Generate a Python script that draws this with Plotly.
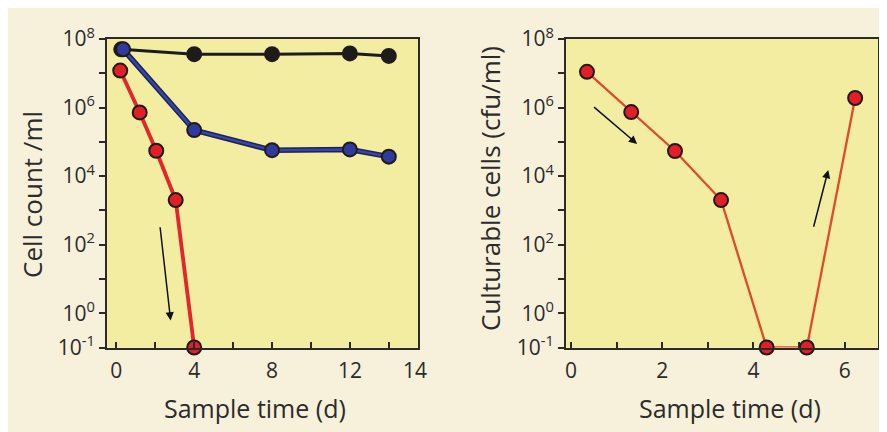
import plotly.graph_objects as go

# ---------------- data ----------------
# Left panel: cell counts (cells/ml) vs sample time (d)
black_x = [0.25, 4, 8, 12, 14]
black_y = [5.0e7, 3.6e7, 3.6e7, 3.8e7, 3.2e7]

blue_x = [0.35, 4, 8, 12, 14]
blue_y = [5.0e7, 2.2e5, 5.7e4, 6.0e4, 3.7e4]

red_x = [0.2, 1.2, 2.05, 3.05, 4.0]
red_y = [1.2e7, 7.2e5, 5.5e4, 2.0e3, 0.1]

# Right panel: culturable cells (cfu/ml)
cfu_x = [0.35, 1.32, 2.28, 3.29, 4.29, 5.17, 6.23]
cfu_y = [1.1e7, 7.4e5, 5.4e4, 2.0e3, 0.1, 0.1, 1.9e6]

# tick labels
y_tickvals = [1e8, 1e7, 1e6, 1e5, 1e4, 1e3, 1e2, 1e1, 1e0, 1e-1]
y_ticktext = ["10<sup>8</sup>", "", "10<sup>6</sup>", "", "10<sup>4</sup>", "",
              "10<sup>2</sup>", "", "10<sup>0</sup>", "10<sup>-1</sup>"]
x1_tickvals = [0, 2, 4, 6, 8, 10, 12, 14]
x1_ticktext = ["0", "", "4", "", "8", "", "12", ""]
x1_end_label = "14"
x2_tickvals = [0, 1, 2, 3, 4, 5, 6]
x2_ticktext = ["0", "", "2", "", "4", "", "6"]

# ---------------- style ----------------
W, H = 887, 432
OFF = 8  # page body margin offset
FONT = "Open Sans"
TXT = "#2b2b2b"
PAPER = "#f7f0da"
PLOTBG = "#f2eda0"
AX = "#2a2a2a"
MK_LINE = dict(color="#221a1a", width=2)


def px(x):
    return (x - OFF) / W


def py(y):
    return 1 - (y - OFF) / H


fig = go.Figure()

fig.add_trace(go.Scatter(x=black_x, y=black_y, mode="lines+markers",
                         line=dict(color="#1c1c1c", width=3),
                         marker=dict(size=14, color="#1c1c1c", line=MK_LINE),
                         cliponaxis=False, xaxis="x", yaxis="y", showlegend=False))
# blue series: dark edge under a blue core
fig.add_trace(go.Scatter(x=blue_x, y=blue_y, mode="lines",
                         line=dict(color="#1d2258", width=5.5),
                         xaxis="x", yaxis="y", showlegend=False, hoverinfo="skip"))
fig.add_trace(go.Scatter(x=blue_x, y=blue_y, mode="lines+markers",
                         line=dict(color="#3646a6", width=2.5),
                         marker=dict(size=14, color="#2f3a9e", line=MK_LINE),
                         cliponaxis=False, xaxis="x", yaxis="y", showlegend=False))
fig.add_trace(go.Scatter(x=red_x, y=red_y, mode="lines+markers",
                         line=dict(color="#e4252b", width=3.8),
                         marker=dict(size=14, color="#e21f26", line=MK_LINE),
                         cliponaxis=False, xaxis="x", yaxis="y", showlegend=False))
fig.add_trace(go.Scatter(x=cfu_x, y=cfu_y, mode="lines+markers",
                         line=dict(color="#e34a2a", width=2.3),
                         marker=dict(size=14, color="#e21f26", line=MK_LINE),
                         cliponaxis=False, xaxis="x2", yaxis="y2", showlegend=False))

xd1 = [px(107), px(418)]
xd2 = [px(566), px(877.5)]
yd = [py(347.5), py(39)]

TICKFONT = dict(family=FONT, size=21, color=TXT)
common_x = dict(showgrid=False, zeroline=False, showline=True, mirror=True,
                linecolor=AX, linewidth=2, ticks="inside", ticklen=6,
                tickwidth=1.5, tickcolor=AX, ticklabelstandoff=3,
                tickfont=TICKFONT, automargin=False)
common_y = dict(type="log", range=[-1, 8], showgrid=False, zeroline=False,
                showline=True, mirror=True, linecolor=AX, linewidth=2,
                ticks="outside", ticklen=6, tickwidth=1.5, tickcolor=AX,
                tickvals=y_tickvals, ticktext=y_ticktext,
                tickfont=TICKFONT, automargin=False)

fig.update_layout(
    width=W, height=H,
    margin=dict(l=0, r=0, t=0, b=0, pad=0),
    paper_bgcolor=PAPER,
    plot_bgcolor=PLOTBG,
    font=dict(family=FONT, color=TXT),
    xaxis=dict(common_x, domain=xd1, range=[-0.48, 15.5], anchor="y",
               tickvals=x1_tickvals, ticktext=x1_ticktext),
    yaxis=dict(common_y, domain=yd, anchor="x"),
    xaxis2=dict(common_x, domain=xd2, range=[-0.11, 6.72], anchor="y2",
                tickvals=x2_tickvals, ticktext=x2_ticktext),
    yaxis2=dict(common_y, domain=yd, anchor="x2"),
)

# right-end label of left x-axis
fig.add_annotation(x=15.35, xref="x", y=py(370), yref="paper",
                   xanchor="center", yanchor="middle",
                   text=x1_end_label, showarrow=False, font=TICKFONT)

# axis titles
ytitle_font = dict(family=FONT, size=26, color=TXT)
xtitle_font = dict(family=FONT, size=25, color=TXT)
fig.add_annotation(x=px(32), y=py(195), xref="paper", yref="paper",
                   xanchor="center", yanchor="middle",
                   text="Cell count /ml", textangle=-90, showarrow=False,
                   font=ytitle_font)
fig.add_annotation(x=px(490), y=py(189), xref="paper", yref="paper",
                   xanchor="center", yanchor="middle",
                   text="Culturable cells (cfu/ml)", textangle=-90,
                   showarrow=False, font=ytitle_font)
fig.add_annotation(x=px(255), y=py(408), xref="paper", yref="paper",
                   xanchor="center", yanchor="middle",
                   text="Sample time (d)", showarrow=False, font=xtitle_font)
fig.add_annotation(x=px(730), y=py(408), xref="paper", yref="paper",
                   xanchor="center", yanchor="middle",
                   text="Sample time (d)", showarrow=False, font=xtitle_font)

# arrows
arrow = dict(text="", showarrow=True, arrowhead=2, arrowsize=1.1,
             arrowwidth=1.5, arrowcolor="#111111", axref="pixel", ayref="pixel")
fig.add_annotation(arrow, x=2.79, y=-0.21, xref="x", yref="y", ax=-10.7, ay=-94.7)
fig.add_annotation(arrow, x=1.45, y=4.94, xref="x2", yref="y2", ax=-44.6, ay=-38)
fig.add_annotation(arrow, x=5.64, y=4.18, xref="x2", yref="y2", ax=-15, ay=58.3)

fig.write_html("out.html")
